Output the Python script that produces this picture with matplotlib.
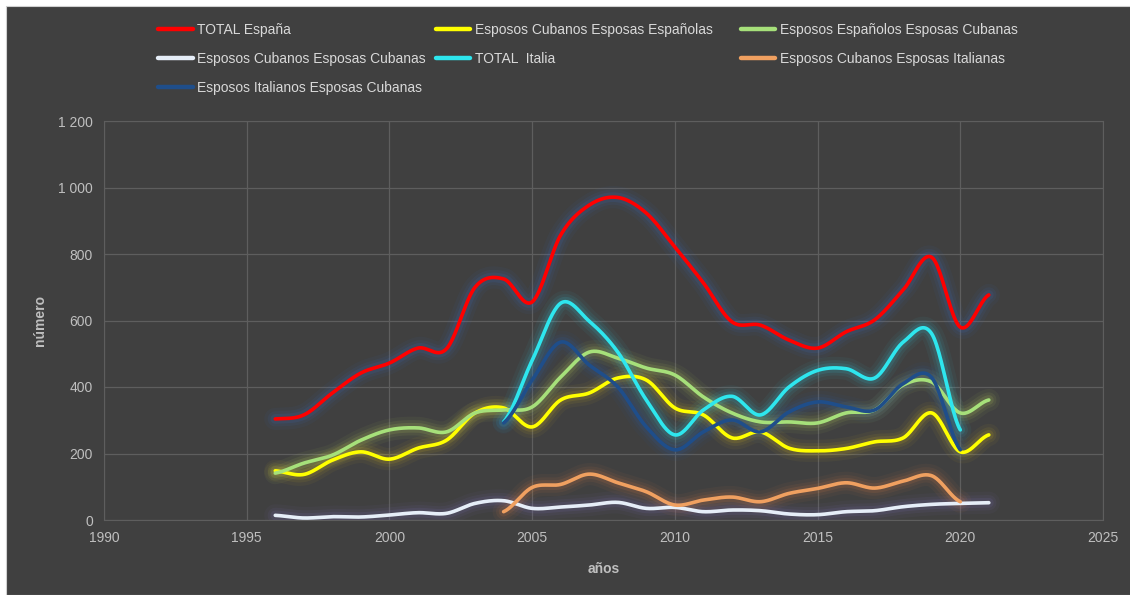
"""Matrimonios con cubanos: España e Italia, 1996-2021"""
import numpy as np
import matplotlib
matplotlib.use('Agg')
import matplotlib.pyplot as plt
from matplotlib.patches import Rectangle

years_es = list(range(1996, 2022))
years_it = list(range(2004, 2021))

total_espana = [304, 316, 382, 442, 472, 517, 515, 700, 725, 656, 857, 947, 970, 923,
                821, 713, 596, 586, 541, 517, 566, 602, 692, 790, 580, 677]
cub_esp = [148, 137, 180, 205, 183, 216, 240, 322, 337, 280, 361, 382, 427, 421,
           337, 316, 247, 265, 216, 208, 215, 235, 247, 322, 205, 256]
esp_cub = [141, 171, 195, 240, 271, 277, 265, 322, 331, 340, 430, 505, 487, 457,
           436, 370, 322, 295, 295, 292, 322, 331, 406, 415, 322, 361]
cub_cub = [14, 6, 10, 9, 15, 22, 20, 50, 58, 35, 39, 45, 53, 35,
           38, 25, 30, 28, 18, 16, 25, 28, 40, 47, 50, 52]
total_italia = [295, 480, 652, 598, 505, 361, 256, 331, 372, 316, 400, 450, 455, 427, 535, 560, 271]
cub_ita = [25, 98, 107, 138, 112, 85, 45, 60, 69, 55, 80, 95, 112, 96, 117, 133, 55]
ita_cub = [292, 421, 535, 466, 400, 280, 211, 265, 301, 265, 325, 355, 340, 331, 410, 428, 211]

labels = ['TOTAL España', 'Esposos Cubanos Esposas Españolas', 'Esposos Españolos Esposas Cubanas',
          'Esposos Cubanos Esposas Cubanas', 'TOTAL  Italia', 'Esposos Cubanos Esposas Italianas',
          'Esposos Italianos Esposas Cubanas']


def smooth(x, y, n=24):
    """Catmull-Rom curve through the points, like Excel's smoothed line."""
    x = np.asarray(x, float)
    y = np.asarray(y, float)
    px = np.concatenate([[2 * x[0] - x[1]], x, [2 * x[-1] - x[-2]]])
    py = np.concatenate([[y[0]], y, [y[-1]]])
    xs, ys = [], []
    t = np.linspace(0, 1, n, endpoint=False)
    for i in range(1, len(px) - 2):
        for p, out in ((px, xs), (py, ys)):
            p0, p1, p2, p3 = p[i - 1], p[i], p[i + 1], p[i + 2]
            out.append(0.5 * ((2 * p1) + (-p0 + p2) * t + (2 * p0 - 5 * p1 + 4 * p2 - p3) * t ** 2
                              + (-p0 + 3 * p1 - 3 * p2 + p3) * t ** 3))
    xs.append([x[-1]])
    ys.append([y[-1]])
    return np.concatenate(xs), np.concatenate(ys)


plt.rcParams['font.family'] = ['Liberation Sans', 'DejaVu Sans']

bg = '#404040'
fig = plt.figure(figsize=(11.3, 5.95), dpi=100, facecolor='white')
fig.patches.append(Rectangle((6 / 1130, 0), 1, 1 - 6 / 595, transform=fig.transFigure,
                             facecolor=bg, edgecolor='#d0d0d0', linewidth=0.8, zorder=-5))
ax = fig.add_axes([104 / 1130, 75 / 595, 999 / 1130, 399 / 595])
ax.set_facecolor(bg)

series = [
    (years_es, total_espana, '#ff0000', '#3a6fd0'),
    (years_es, cub_esp, '#ffff00', '#e0c020'),
    (years_es, esp_cub, '#a6e07a', '#c8e060'),
    (years_es, cub_cub, '#e6eef8', '#8070c0'),
    (years_it, total_italia, '#2ee6ee', '#30d0e8'),
    (years_it, cub_ita, '#f0a060', '#e08040'),
    (years_it, ita_cub, '#1f4e8a', '#2a60b0'),
]

handles = []
for i, (xv, yv, col, glow) in enumerate(series):
    sx, sy = smooth(xv, yv)
    for w, a in ((16, 0.05), (11, 0.08), (7, 0.12)):
        ax.plot(sx, sy, color=glow, linewidth=w, alpha=a, solid_capstyle='round', zorder=2 + i)
    h, = ax.plot(sx, sy, color=col, linewidth=2.6, solid_capstyle='round', zorder=10 + i, label=labels[i])
    handles.append(h)

ax.set_xlim(1990, 2025)
ax.set_ylim(0, 1200)
ax.set_xticks(range(1990, 2026, 5))
ax.set_yticks(range(0, 1201, 200))
ax.set_yticklabels(['0', '200', '400', '600', '800', '1 000', '1 200'])
ax.grid(True, color='#5e5e5e', linewidth=0.9)
ax.set_axisbelow(True)
for s in ax.spines.values():
    s.set_color('#5e5e5e')
ax.tick_params(colors='#bfbfbf', labelsize=10, length=0, pad=8)
ax.set_xlabel('años', color='#bfbfbf', fontsize=10, fontweight='bold', labelpad=12)
ax.set_ylabel('número', color='#bfbfbf', fontsize=10, fontweight='bold', labelpad=8)

# legend laid out in three columns, as in the original
columns = [[0, 3, 6], [1, 4], [2, 5]]
col_x = [155, 433, 738]
for idx, x0 in zip(columns, col_x):
    leg = fig.legend([handles[k] for k in idx], [labels[k] for k in idx], ncol=1,
                     loc='upper left', bbox_to_anchor=(x0 / 1130, 1 - 20 / 595), frameon=False,
                     fontsize=10, labelcolor='#d9d9d9', handlelength=2.5, handletextpad=0.35,
                     labelspacing=1.1, borderpad=0.2, borderaxespad=0)
    for lh in leg.get_lines():
        lh.set_linewidth(3.2)

fig.savefig('out.png', dpi=100, facecolor=fig.get_facecolor())
